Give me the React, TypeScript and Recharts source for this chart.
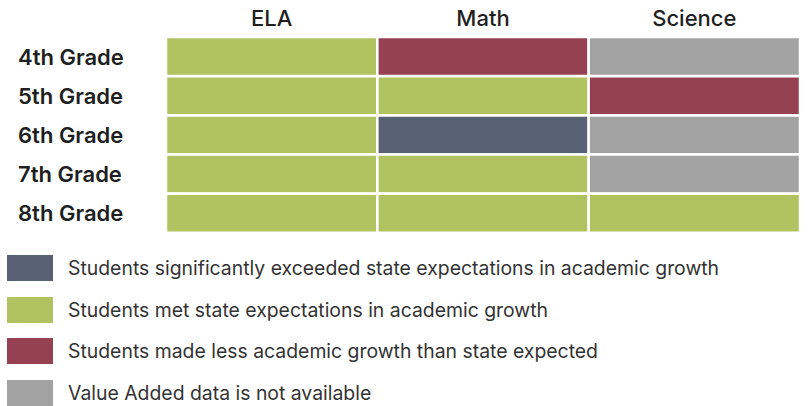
import { BarChart, Bar, XAxis, YAxis, Cell } from 'recharts'

const grades = ['4th Grade', '5th Grade', '6th Grade', '7th Grade', '8th Grade']
const subjects = ['ELA', 'Math', 'Science']
const subjectTicks = [0.5, 1.5, 2.5]

// status per grade, same order as grades
const elaStatus = ['met', 'met', 'met', 'met', 'met']
const mathStatus = ['less', 'met', 'exceeded', 'met', 'met']
const scienceStatus = ['na', 'less', 'na', 'na', 'met']

const statusKeys = ['exceeded', 'met', 'less', 'na']
const statusLabels = [
  'Students significantly exceeded state expectations in academic growth',
  'Students met state expectations in academic growth',
  'Students made less academic growth than state expected',
  'Value Added data is not available',
]

const colours: Record<string, string> = {
  exceeded: '#586074',
  met: '#b0c360',
  less: '#954152',
  na: '#a2a2a2',
}

const statusBySubject = [elaStatus, mathStatus, scienceStatus]

const data = grades.map((grade) => ({ grade, ELA: 1, Math: 1, Science: 1 }))

const font = 'Inter, "DejaVu Sans", sans-serif'

function GradeTick({ y, payload }: any) {
  return (
    <text x={18} y={y} dy="0.36em" textAnchor="start" fill="#1f1f1f" fontSize={22} fontWeight={600} fontFamily={font}>
      {payload.value}
    </text>
  )
}

export default function App() {
  return (
    <div style={{ position: 'absolute', left: 0, top: 0, width: 812, height: 406, background: '#fff', fontFamily: font }}>
      <BarChart
        width={812}
        height={240}
        data={data}
        layout="vertical"
        barCategoryGap={0}
        margin={{ top: 7, right: 12, bottom: 7, left: 0 }}
      >
        <XAxis
          type="number"
          orientation="top"
          domain={[0, 3]}
          ticks={subjectTicks}
          tickFormatter={(v: number) => subjects[Math.floor(v)]}
          axisLine={false}
          tickLine={false}
          tickSize={0}
          tickMargin={11}
          height={30}
          tick={{ fill: '#1f1f1f', fontSize: 22, fontWeight: 500, fontFamily: font }}
        />
        <YAxis
          type="category"
          dataKey="grade"
          width={166}
          axisLine={false}
          tickLine={false}
          tick={<GradeTick />}
        />
        {subjects.map((s, si) => (
          <Bar key={s} dataKey={s} stackId="grid" stroke="#ffffff" strokeWidth={2.5} isAnimationActive={false}>
            {statusBySubject[si].map((st, i) => (
              <Cell key={i} fill={colours[st]} />
            ))}
          </Bar>
        ))}
      </BarChart>
      <div style={{ position: 'absolute', left: 7, top: 255, display: 'flex', flexDirection: 'column', gap: 15.7 }}>
        {statusKeys.map((k, i) => (
          <div key={k} style={{ display: 'flex', alignItems: 'center', height: 26 }}>
            <div style={{ width: 46, height: 26, background: colours[k] }} />
            <span style={{ marginLeft: 15, fontSize: 19.4, color: '#333', whiteSpace: 'nowrap' }}>{statusLabels[i]}</span>
          </div>
        ))}
      </div>
    </div>
  )
}
